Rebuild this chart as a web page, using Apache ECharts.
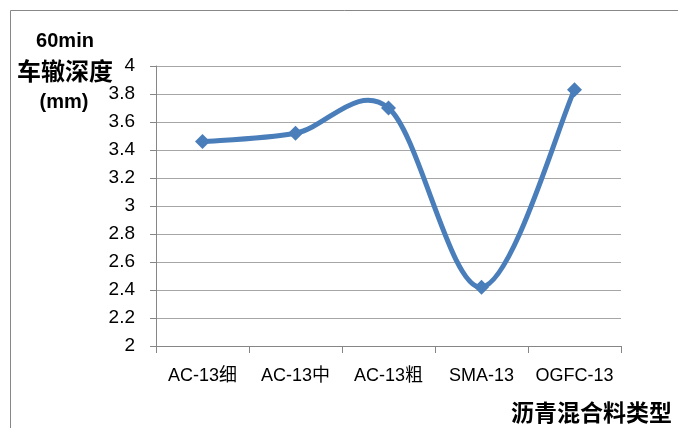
<!DOCTYPE html>
<html>
<head>
<meta charset="utf-8">
<script src="https://cdn.jsdelivr.net/npm/echarts@6/dist/echarts.min.js"></script>
<style>
  html, body { margin: 0; padding: 0; background: #fff; }
  #chart { width: 678px; height: 428px; }
</style>
</head>
<body>
<div id="chart"></div>
<script>
// Mixture types along the x axis
const categories = ['AC-13细', 'AC-13中', 'AC-13粗', 'SMA-13', 'OGFC-13'];
// 60 min rut depth (mm) per mixture
const rutDepth = [3.46, 3.52, 3.70, 2.42, 3.83];
// y axis range and step
const yMin = 2;
const yMax = 4;
const yStep = 0.2;

const chart = echarts.init(document.getElementById('chart'), null, { renderer: 'canvas' });
const labelFont = '"Liberation Sans", "Noto Sans CJK SC", sans-serif';
const lineColor = '#4a7ebb';

// Cardinal-spline segment between point i and i+1 (tension 1/6),
// with coordinates taken from the chart's own scales.
function renderSegment(params, api) {
  const i = params.dataIndex;
  const n = rutDepth.length;
  if (i >= n - 1) return null;
  const clampIdx = k => Math.max(0, Math.min(n - 1, k));
  const p = k => api.coord([clampIdx(k), rutDepth[clampIdx(k)]]);
  const p0 = p(i - 1), p1 = p(i), p2 = p(i + 1), p3 = p(i + 2);
  const c1 = [p1[0] + (p2[0] - p0[0]) / 6, p1[1] + (p2[1] - p0[1]) / 6];
  const c2 = [p2[0] - (p3[0] - p1[0]) / 6, p2[1] - (p3[1] - p1[1]) / 6];
  return {
    type: 'bezierCurve',
    shape: { x1: p1[0], y1: p1[1], cpx1: c1[0], cpy1: c1[1], cpx2: c2[0], cpy2: c2[1], x2: p2[0], y2: p2[1] },
    style: { stroke: lineColor, lineWidth: 5, fill: null, lineCap: 'round' }
  };
}

chart.setOption({
  animation: false,
  backgroundColor: '#ffffff',
  grid: { left: 156, right: 57, top: 66, bottom: 82, containLabel: false },
  xAxis: {
    type: 'category',
    data: categories,
    boundaryGap: true,
    axisLine: { show: true, lineStyle: { color: '#868686', width: 1 } },
    axisTick: { show: true, interval: 0, alignWithLabel: false, length: 7, lineStyle: { color: '#868686' } },
    axisLabel: { color: '#000', fontSize: 18, fontFamily: labelFont, margin: 21, interval: 0, hideOverlap: false },
    splitLine: { show: false }
  },
  yAxis: {
    type: 'value',
    min: yMin,
    max: yMax,
    interval: yStep,
    axisLine: { show: true, lineStyle: { color: '#868686', width: 1 } },
    axisTick: { show: true, length: 6, lineStyle: { color: '#868686' } },
    axisLabel: {
      color: '#000', fontSize: 19, fontFamily: labelFont, margin: 21,
      formatter: v => String(Math.round(v * 10) / 10)
    },
    splitLine: { show: true, lineStyle: { color: '#a6a6a6', width: 1 } }
  },
  series: [
    {
      type: 'custom',
      renderItem: renderSegment,
      data: rutDepth.map((v, i) => [i, v]),
      z: 2,
      silent: true
    },
    {
      type: 'line',
      data: rutDepth,
      symbol: 'diamond',
      symbolSize: 15,
      itemStyle: { color: lineColor },
      lineStyle: { width: 0 },
      z: 3
    }
  ],
  graphic: [
    // outer chart frame (left and top edges)
    { type: 'polyline', silent: true,
      shape: { points: [[10.5, 440], [10.5, 10.5], [690, 10.5]] },
      style: { stroke: '#878787', lineWidth: 1, fill: null } },
    // y axis title
    { type: 'text', x: 65, y: 41,
      style: { text: '60min', font: 'bold 20px "Liberation Sans", sans-serif', fill: '#000', align: 'center', verticalAlign: 'middle' } },
    { type: 'text', x: 65, y: 71,
      style: { text: '车辙深度', font: 'bold 24px "Noto Sans CJK SC", sans-serif', fill: '#000', align: 'center', verticalAlign: 'middle' } },
    { type: 'text', x: 64, y: 102,
      style: { text: '(mm)', font: 'bold 20px "Liberation Sans", sans-serif', fill: '#000', align: 'center', verticalAlign: 'middle' } },
    // x axis title
    { type: 'text', x: 672, y: 412,
      style: { text: '沥青混合料类型', font: 'bold 23px "Noto Sans CJK SC", sans-serif', fill: '#000', align: 'right', verticalAlign: 'middle' } }
  ]
});
</script>
</body>
</html>
